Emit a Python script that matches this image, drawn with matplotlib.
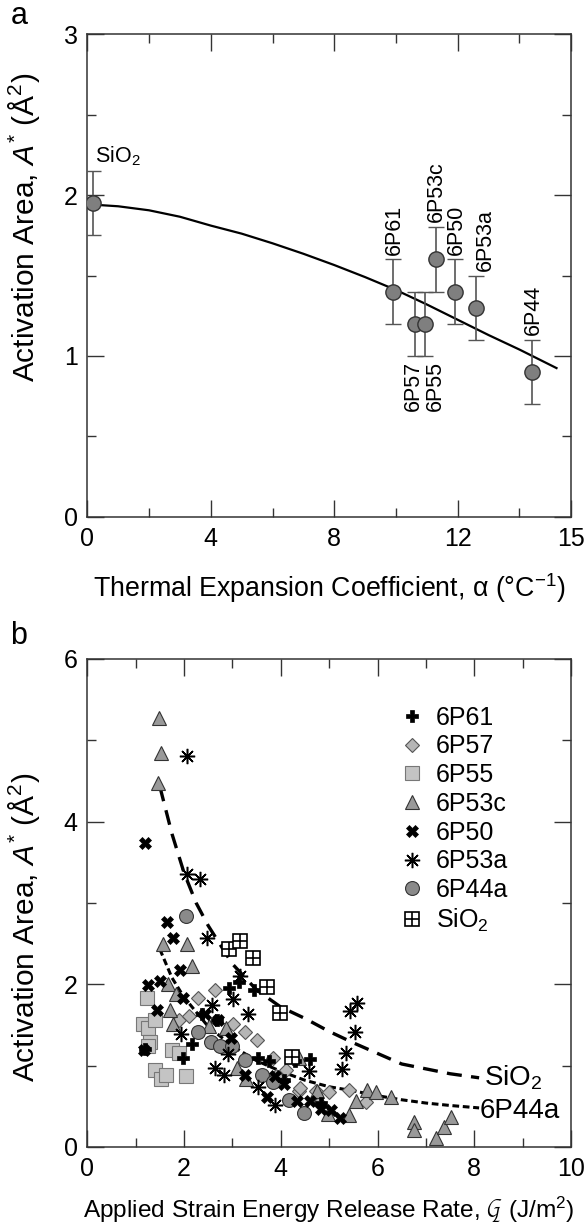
import numpy as np
import matplotlib
matplotlib.use('Agg')
import matplotlib.pyplot as plt
from matplotlib.ticker import FixedLocator

plt.rcParams['font.family'] = ['Liberation Sans', 'DejaVu Sans']
plt.rcParams['mathtext.fontset'] = 'custom'
plt.rcParams['mathtext.rm'] = 'Liberation Sans'
plt.rcParams['mathtext.it'] = 'Liberation Sans:italic'
plt.rcParams['mathtext.default'] = 'regular'


### DATA : panel a ###

glass_names = ['SiO$_2$', '6P61', '6P57', '6P55', '6P53c', '6P50', '6P53a', '6P44']
alpha_vals = [0.2, 9.9, 10.6, 10.93, 11.3, 11.9, 12.6, 14.4]
area_vals = [1.95, 1.40, 1.20, 1.20, 1.60, 1.40, 1.30, 0.90]
area_err = [0.2, 0.2, 0.2, 0.2, 0.2, 0.2, 0.2, 0.2]

fit_a_x = [0.2, 1.0, 2.0, 3.0, 4.0, 5.0, 6.0, 7.0, 8.0, 9.0, 10.0, 11.0, 12.0, 13.0, 14.0, 15.2]
fit_a_y = [1.94, 1.93, 1.905, 1.865, 1.81, 1.76, 1.70, 1.635, 1.565, 1.49, 1.41, 1.32, 1.225,
           1.13, 1.04, 0.925]

### DATA : panel b ###

b_6P61_x = [1.20, 1.98, 2.17, 2.37, 2.68, 2.93, 3.14, 3.45, 3.52, 3.75, 4.06, 4.29, 4.60, 4.83]
b_6P61_y = [1.20, 1.09, 1.26, 1.63, 1.56, 1.96, 2.03, 1.93, 1.09, 1.06, 0.82, 1.06, 1.08, 0.54]

b_6P57_x = [1.90, 2.10, 2.29, 2.64, 3.02, 3.25, 3.51, 3.83, 3.91, 4.10, 4.37, 4.40, 4.72, 4.99, 5.40, 5.76, 4.80]
b_6P57_y = [1.56, 1.61, 1.83, 1.93, 1.51, 1.41, 1.32, 1.09, 0.87, 0.94, 0.69, 0.72, 0.69, 0.67, 0.70, 0.55, 0.54]

b_6P55_x = [1.23, 1.15, 1.26, 1.40, 1.29, 1.25, 1.75, 1.90, 1.40, 1.52, 1.63, 2.04]
b_6P55_y = [1.83, 1.51, 1.46, 1.56, 1.29, 1.24, 1.19, 1.16, 0.94, 0.84, 0.89, 0.87]

b_6P53c_x = [1.48, 1.52, 1.46, 1.57, 2.06, 2.17, 1.67, 1.84, 1.71, 1.77, 2.52, 2.87, 3.10, 3.29,
             4.37, 4.75, 4.98, 5.40, 5.56, 5.78, 5.96, 6.27, 6.75, 6.75, 7.20, 7.37, 7.51]
b_6P53c_y = [5.28, 4.84, 4.48, 2.49, 2.49, 2.22, 2.00, 1.88, 1.68, 1.51, 1.49, 1.46, 0.97, 0.84,
             1.09, 0.69, 0.40, 0.39, 0.56, 0.70, 0.68, 0.62, 0.31, 0.21, 0.11, 0.25, 0.37]

b_6P50_x = [1.19, 1.64, 1.78, 1.92, 1.26, 1.50, 1.98, 1.44, 2.43, 2.71, 1.17, 2.98, 3.25, 3.87,
            4.06, 4.33, 4.60, 4.83, 5.03, 5.22, 3.72]
b_6P50_y = [3.74, 2.77, 2.57, 2.18, 1.99, 2.04, 1.83, 1.68, 1.63, 1.56, 1.19, 1.34, 0.89, 0.87,
            0.77, 0.57, 0.57, 0.47, 0.45, 0.35, 0.62]

b_6P53a_x = [2.06, 2.06, 2.33, 2.47, 3.16, 3.02, 3.33, 2.58, 1.94, 2.64, 2.83, 2.91, 3.52, 3.89,
             4.58, 5.27, 5.34, 5.44, 5.58, 5.54]
b_6P53a_y = [4.81, 3.35, 3.29, 2.57, 2.10, 1.82, 1.63, 1.75, 1.39, 0.97, 0.89, 1.14, 0.74, 0.52,
             0.93, 0.96, 1.16, 1.67, 1.77, 1.41]

b_6P44a_x = [2.04, 2.29, 2.56, 2.75, 3.00, 3.25, 3.61, 3.84, 4.16, 4.47]
b_6P44a_y = [2.84, 1.41, 1.29, 1.24, 1.24, 1.07, 0.89, 0.80, 0.58, 0.42]

b_SiO2_x = [2.92, 3.16, 3.42, 3.71, 3.99, 4.23]
b_SiO2_y = [2.43, 2.53, 2.32, 1.97, 1.65, 1.11]

fit_SiO2_x = [1.5, 1.75, 2.0, 2.25, 2.5, 3.0, 3.5, 4.0, 4.5, 5.0, 5.5, 6.0, 6.5, 7.0, 7.5, 8.1]
fit_SiO2_y = [4.43, 3.85, 3.37, 3.00, 2.72, 2.25, 1.93, 1.72, 1.58, 1.42, 1.28, 1.15, 1.02, 0.96, 0.90, 0.85]

fit_6P44a_x = [1.5, 1.75, 2.0, 2.5, 3.0, 3.5, 4.0, 4.5, 5.0, 5.5, 6.0, 6.5, 7.0, 7.5, 8.1]
fit_6P44a_y = [2.43, 2.08, 1.84, 1.48, 1.24, 1.06, 0.93, 0.82, 0.74, 0.69, 0.63, 0.58, 0.54, 0.51, 0.48]


### STYLE ###

FS_TICK = 18
FS_YLAB = 21.5
spine_col = '#333333'
ylab = 'Activation Area, $\\mathit{A}^{*}$ (Å$^{2}$)'


def style_axes(ax):
    """ inward ticks on all four sides """
    for sp in ax.spines.values():
        sp.set_color(spine_col)
        sp.set_linewidth(1.1)
    ax.tick_params(which='both', direction='in', top=True, right=True,
                   color=spine_col, width=1.0, labelsize=FS_TICK, pad=7)
    ax.tick_params(which='major', length=12)
    ax.tick_params(which='minor', length=6.5)


fig = plt.figure(figsize=(5.88, 12.28), dpi=100)

### PANEL A ###

ax1 = fig.add_axes([0.1485, 0.579, 0.8226, 0.3933])
style_axes(ax1)
x_right = 15.67
ax1.set_xlim(0, x_right)
ax1.set_ylim(0, 3)
ax1.xaxis.set_major_locator(FixedLocator([0, 4, 8, 12, x_right]))
ax1.set_xticklabels(['0', '4', '8', '12', '15'])
ax1.xaxis.set_minor_locator(FixedLocator([2, 6, 10, 14]))
ax1.yaxis.set_major_locator(FixedLocator([0, 1, 2, 3]))
ax1.yaxis.set_minor_locator(FixedLocator([0.5, 1.5, 2.5]))

ax1.plot(fit_a_x, fit_a_y, color='black', lw=1.6, zorder=2)
ax1.errorbar(alpha_vals, area_vals, yerr=area_err, fmt='o', ms=11,
             mfc='#7f7f7f', mec='#333333', mew=1.0, ecolor='#555555',
             elinewidth=1.2, capsize=6, capthick=1.2, zorder=3)

# point labels
lab_fs = 15.5
ax1.text(0.25, 2.17, 'SiO$_2$', fontsize=lab_fs, ha='left', va='bottom')
ax1.text(9.95, 1.63, '6P61', fontsize=lab_fs, rotation=90, ha='center', va='bottom')
ax1.text(11.32, 1.83, '6P53c', fontsize=lab_fs, rotation=90, ha='center', va='bottom')
ax1.text(11.97, 1.63, '6P50', fontsize=lab_fs, rotation=90, ha='center', va='bottom')
ax1.text(12.88, 1.53, '6P53a', fontsize=lab_fs, rotation=90, ha='center', va='bottom')
ax1.text(14.45, 1.13, '6P44', fontsize=lab_fs, rotation=90, ha='center', va='bottom')
ax1.text(10.56, 0.97, '6P57', fontsize=lab_fs, rotation=90, ha='center', va='top')
ax1.text(11.26, 0.97, '6P55', fontsize=lab_fs, rotation=90, ha='center', va='top')

ax1.set_xlabel('Thermal Expansion Coefficient, α (°C$^{-1}$)', fontsize=19.3, labelpad=15)
ax1.set_ylabel(ylab, fontsize=FS_YLAB)
ax1.yaxis.set_label_coords(-0.094, 0.6)
fig.text(0.018, 0.987, 'a', fontsize=22, va='center', ha='left')

### PANEL B ###

ax2 = fig.add_axes([0.1485, 0.066, 0.8226, 0.3974])
style_axes(ax2)
ax2.set_xlim(0, 10)
ax2.set_ylim(0, 6)
ax2.xaxis.set_major_locator(FixedLocator([0, 2, 4, 6, 8, 10]))
ax2.xaxis.set_minor_locator(FixedLocator([1, 3, 5, 7, 9]))
ax2.yaxis.set_major_locator(FixedLocator([0, 2, 4, 6]))
ax2.yaxis.set_minor_locator(FixedLocator([1, 3, 5]))

ax2.plot(fit_SiO2_x, fit_SiO2_y, color='black', lw=2.4, ls=(0, (4.5, 2.8)), zorder=2)
ax2.plot(fit_6P44a_x, fit_6P44a_y, color='black', lw=2.2, ls=(0, (2.2, 1.2)), zorder=2)

h61, = ax2.plot(b_6P61_x, b_6P61_y, ls='none', marker='P', ms=9, mfc='black',
                mec='black', mew=0.5, label='6P61', zorder=4)
h57, = ax2.plot(b_6P57_x, b_6P57_y, ls='none', marker='D', ms=7, mfc='#b5b5b5',
                mec='#555555', mew=0.8, label='6P57', zorder=3)
h55, = ax2.plot(b_6P55_x, b_6P55_y, ls='none', marker='s', ms=10, mfc='#c4c4c4',
                mec='#777777', mew=0.8, label='6P55', zorder=3)
h53c, = ax2.plot(b_6P53c_x, b_6P53c_y, ls='none', marker='^', ms=10, mfc='#999999',
                 mec='#333333', mew=0.8, label='6P53c', zorder=3)
h50, = ax2.plot(b_6P50_x, b_6P50_y, ls='none', marker='X', ms=9, mfc='black',
                mec='black', mew=0.5, label='6P50', zorder=4)
h53a, = ax2.plot(b_6P53a_x, b_6P53a_y, ls='none', marker=(8, 2, 0), ms=11, color='black',
                 mew=1.1, label='6P53a', zorder=4)
h44, = ax2.plot(b_6P44a_x, b_6P44a_y, ls='none', marker='o', ms=10, mfc='#8a8a8a',
                mec='#333333', mew=0.8, label='6P44a', zorder=3)
hsq, = ax2.plot(b_SiO2_x, b_SiO2_y, ls='none', marker='s', ms=10, mfc='white',
                mec='black', mew=1.2, zorder=4)
hpl, = ax2.plot(b_SiO2_x, b_SiO2_y, ls='none', marker='+', ms=10, color='black',
                mew=1.2, zorder=5)

ax2.legend([h61, h57, h55, h53c, h50, h53a, h44, (hsq, hpl)],
           ['6P61', '6P57', '6P55', '6P53c', '6P50', '6P53a', '6P44a', 'SiO$_2$'],
           loc='upper left', bbox_to_anchor=(0.625, 0.925), frameon=False,
           fontsize=FS_TICK, handlelength=1.0, handletextpad=0.45, labelspacing=0.19,
           borderaxespad=0)

ax2.text(8.2, 0.85, 'SiO$_2$', fontsize=20, ha='left', va='center')
ax2.text(8.12, 0.44, '6P44a', fontsize=20, ha='left', va='center')

ax2.set_xlabel('Applied Strain Energy Release Rate, $\\mathcal{G}$ (J/m$^{2}$)',
               fontsize=17.6, labelpad=10)
ax2.set_ylabel(ylab, fontsize=FS_YLAB)
ax2.yaxis.set_label_coords(-0.094, 0.45)
fig.text(0.018, 0.482, 'b', fontsize=22, va='center', ha='left')

fig.savefig('out.png', dpi=100)
